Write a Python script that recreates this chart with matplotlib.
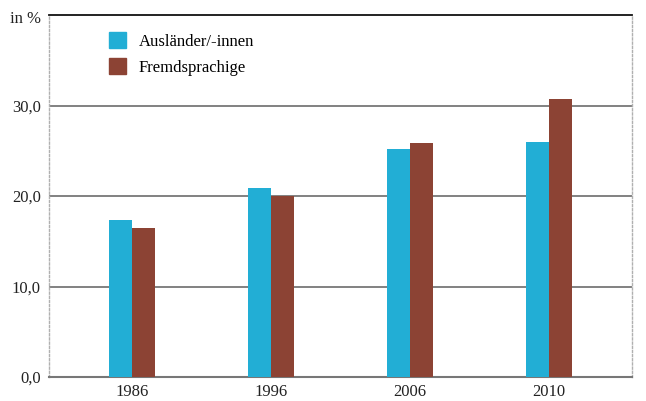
import numpy as np
import matplotlib.pyplot as plt
from matplotlib.patches import Patch

years = ['1986', '1996', '2006', '2010']
auslaender = [17.4, 20.9, 25.2, 26.0]
fremdsprachige = [16.5, 20.0, 25.9, 30.7]
yticks = [0, 10, 20, 30]
ytick_labels = ['0,0', '10,0', '20,0', '30,0']

blue = '#22aed5'
brown = '#8c4334'

plt.rcParams['font.family'] = ['Liberation Serif', 'DejaVu Serif']

fig = plt.figure(figsize=(6.46, 4.01), dpi=100)
ax = fig.add_axes([49 / 646, 1 - 377 / 401, 583 / 646, 362 / 401])

x = np.arange(len(years))
w = 0.165
ax.bar(x - w / 2, auslaender, w, color=blue, zorder=3)
ax.bar(x + w / 2, fremdsprachige, w, color=brown, zorder=3)

ax.set_xlim(-0.6, 3.6)
ax.set_ylim(0, 40)
ax.set_xticks(x)
ax.set_xticklabels(years, fontsize=12)
ax.set_yticks(yticks)
ax.set_yticklabels(ytick_labels, fontsize=12)
ax.tick_params(length=0, colors='#222222')
ax.tick_params(axis='x', pad=5)
ax.tick_params(axis='y', pad=6)

for v in yticks[1:]:
    ax.axhline(v, color='#777777', lw=1.3, zorder=1)

ax.spines['top'].set_color('#111111')
ax.spines['top'].set_linewidth(1.3)
ax.spines['bottom'].set_color('#777777')
ax.spines['bottom'].set_linewidth(1.5)
for s in ['left', 'right']:
    ax.spines[s].set_color('#b0b0b0')
    ax.spines[s].set_linestyle((0, (1.5, 1.5)))
    ax.spines[s].set_linewidth(1)

fig.text(10 / 646, 1 - 19 / 401, 'in %', fontsize=12, va='center', color='#222222')

handles = [Patch(color=blue, label='Ausländer/-innen'),
           Patch(color=brown, label='Fremdsprachige')]
ax.legend(handles=handles, loc='upper left', bbox_to_anchor=(0.08, 0.99),
          frameon=False, fontsize=12, handlelength=1.0, handleheight=1.1,
          handletextpad=0.8, labelspacing=0.5, borderpad=0.3)

plt.savefig('out.png', dpi=100)
